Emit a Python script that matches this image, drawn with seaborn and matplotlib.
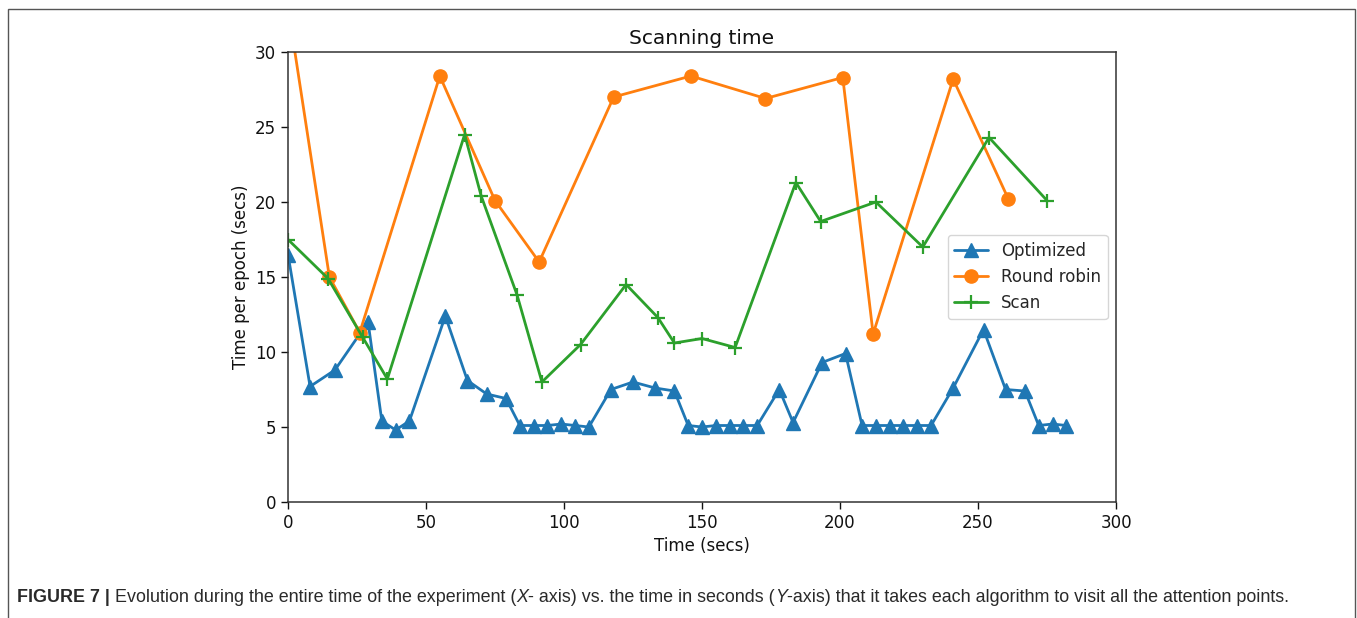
import matplotlib
matplotlib.use("Agg")
import matplotlib.pyplot as plt
from matplotlib import font_manager
from matplotlib.patches import Rectangle
import pandas as pd
import seaborn as sns

# values
opt_x = [0, 8, 17, 29, 34, 39, 44, 57, 65, 72, 79, 84, 89, 94, 99, 104, 109,
         117, 125, 133, 140, 145, 150, 155, 160, 165, 170, 178, 183, 193.5, 202,
         208, 213, 218, 223, 228, 233, 241, 252, 260, 267, 272, 277, 282]
opt_y = [16.5, 7.7, 8.8, 12.0, 5.4, 4.8, 5.4, 12.4, 8.1, 7.2, 6.9, 5.1, 5.1, 5.1, 5.2, 5.1, 5.0,
         7.5, 8.0, 7.6, 7.4, 5.1, 5.0, 5.1, 5.1, 5.1, 5.1, 7.5, 5.3, 9.3, 9.9,
         5.1, 5.1, 5.1, 5.1, 5.1, 5.1, 7.6, 11.5, 7.5, 7.4, 5.1, 5.2, 5.1]

rr_x = [0, 15, 26, 55, 75, 91, 118, 146, 173, 201, 212, 241, 261]
rr_y = [33.0, 15.0, 11.3, 28.4, 20.1, 16.0, 27.0, 28.4, 26.9, 28.3, 11.2, 28.2, 20.2]

scan_x = [0, 14.5, 27, 36, 64, 70, 83, 92, 106, 122.5, 134, 140, 150, 162, 184, 193, 213, 230, 254, 275]
scan_y = [17.5, 14.9, 11.0, 8.2, 24.5, 20.4, 13.8, 8.0, 10.5, 14.5, 12.3, 10.6, 10.9, 10.3,
          21.3, 18.7, 20.0, 17.0, 24.3, 20.1]

x_ticks = [0, 50, 100, 150, 200, 250, 300]
y_ticks = [0, 5, 10, 15, 20, 25, 30]

sns.set_style("ticks")
plt.rcParams['font.family'] = ['DejaVu Sans']
plt.rcParams['font.size'] = 12

fig = plt.figure(figsize=(13.57, 6.18), dpi=100)
ax = fig.add_axes([288 / 1357, 116 / 618, 828 / 1357, 450 / 618])

series = [
    ("Optimized", opt_x, opt_y, "^", "#1f77b4", 1.0),
    ("Round robin", rr_x, rr_y, "o", "#ff7f0e", 1.0),
    ("Scan", scan_x, scan_y, "+", "#2ca02c", 1.6),
]
for name, xs, ys, mk, col, mew in series:
    df = pd.DataFrame({"t": xs, "v": ys})
    sns.lineplot(data=df, x="t", y="v", ax=ax, color=col, marker=mk, markersize=9.5,
                 markeredgecolor=col, markeredgewidth=mew, linewidth=2.0,
                 estimator=None, sort=False, label=name)

ax.set_xlim(0, 300)
ax.set_ylim(0, 30)
ax.set_xticks(x_ticks)
ax.set_yticks(y_ticks)
ax.tick_params(labelsize=12, length=5, width=1, colors="#111111")
for s in ax.spines.values():
    s.set_linewidth(1.1)
    s.set_color("#333333")
ax.set_title("Scanning time", fontsize=14.5, pad=6, color="#111111")
ax.set_xlabel("Time (secs)", fontsize=12, color="#111111")
ax.set_ylabel("Time per epoch (secs)", fontsize=12, color="#111111")
leg = ax.legend(loc="center right", fontsize=12, frameon=True, handlelength=2.0)
leg.get_frame().set_edgecolor("#cccccc")

# outer frame of the figure panel
fig.patches.append(Rectangle((8 / 1357, -0.02), 1347 / 1357, 1.02 - 9 / 618,
                             transform=fig.transFigure, fill=False,
                             edgecolor="#555555", linewidth=1.0))

# caption, drawn piece by piece so that bold / italic parts sit on one line
cap_font = "Liberation Sans"
for cand in ["Liberation Sans Narrow", "Arial Narrow", "Liberation Sans"]:
    try:
        font_manager.findfont(cand, fallback_to_default=False)
        cap_font = cand
        break
    except Exception:
        pass

pieces = [
    ("FIGURE 7 |", "bold", "normal"),
    (" Evolution during the entire time of the experiment (", "normal", "normal"),
    ("X", "normal", "italic"),
    ("- axis) vs. the time in seconds (", "normal", "normal"),
    ("Y", "normal", "italic"),
    ("-axis) that it takes each algorithm to visit all the attention points.", "normal", "normal"),
]
renderer = fig.canvas.get_renderer()
x_px = 17.0
y_fig = 1 - 602 / 618
for txt, wt, st in pieces:
    t = fig.text(x_px / 1357, y_fig, txt, fontsize=12.9, family=cap_font, weight=wt,
                 style=st, color="#2a2a2a", ha="left", va="baseline")
    # measure with a marker char so trailing/leading spaces count
    probe = fig.text(0, 0, txt.replace(" ", "\u00a0"), fontsize=12.9, family=cap_font,
                     weight=wt, style=st)
    x_px += probe.get_window_extent(renderer).width
    probe.remove()

fig.savefig("out.png", dpi=100)
